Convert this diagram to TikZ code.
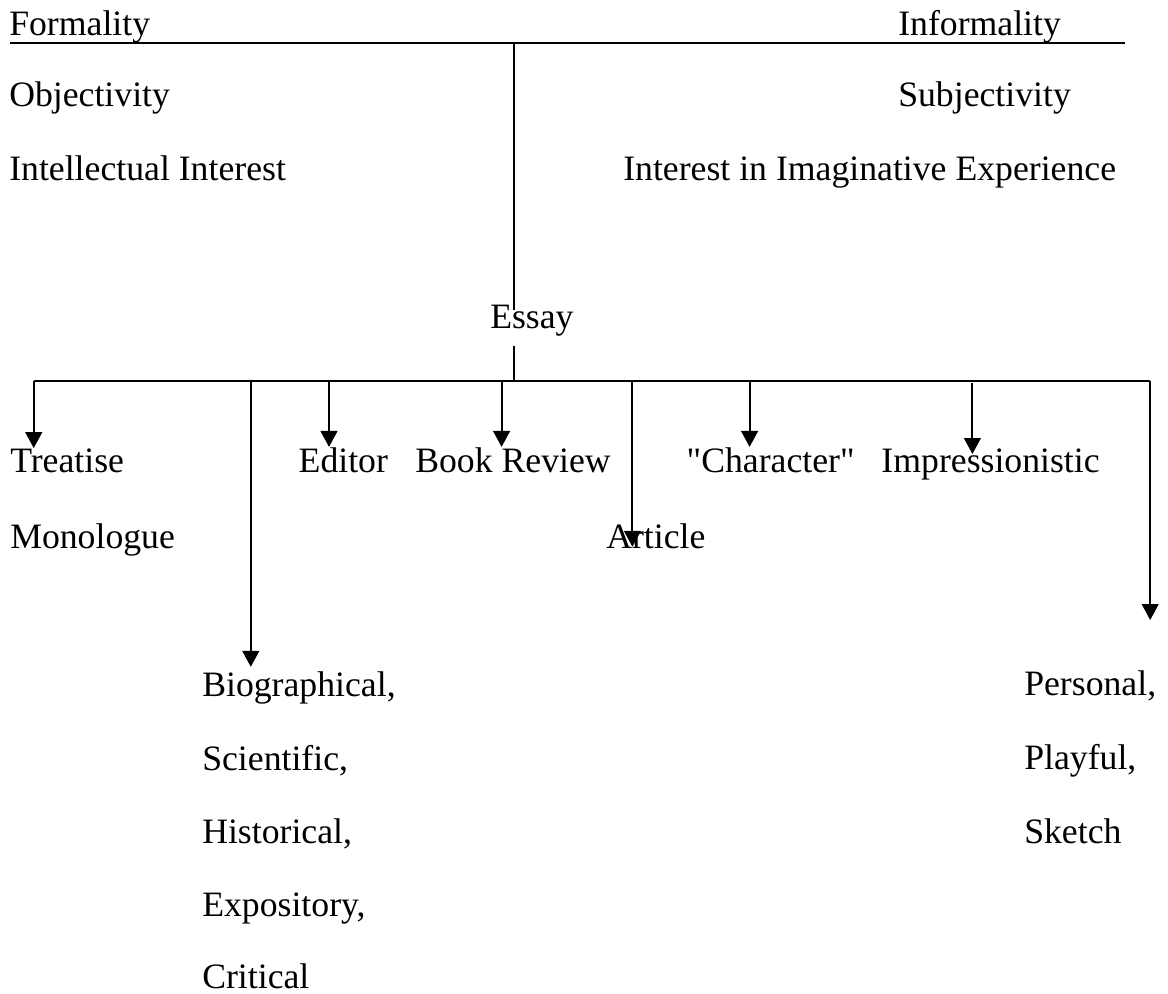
\documentclass[tikz,border=0pt]{standalone}
\usepackage{fontspec}
\setmainfont{Liberation Serif}
\usetikzlibrary{arrows.meta}

\begin{document}
\begin{tikzpicture}[
    every node/.style={inner sep=0pt, anchor=base west, font=\fontsize{25.4}{30}\selectfont},
    link/.style={line width=1.4pt},
    arr/.style={link, -{Triangle[width=0.42cm,length=0.4cm]}}
]
    \useasboundingbox (0,0) rectangle (29.2,-24.85);

    % Scale at the top
    \node (formal) at (0.225,-0.875) {Formality};
    \node (informal) at (22.45,-0.875) {Informality};
    \node (obj) at (0.225,-2.667) {Objectivity};
    \node (subj) at (22.45,-2.667) {Subjectivity};
    \node (intel) at (0.225,-4.5) {Intellectual Interest};
    \node (imag) at (15.575,-4.5) {Interest in Imaginative Experience};
    \coordinate (scaleL) at (0.25,-1.083);
    \coordinate (scaleR) at (28.125,-1.083);
    \coordinate (scaleM) at (12.85,-1.083);
    \draw[line width=1.6pt] (scaleL) -- (scaleR);

    % Essay and the branch line
    \node (essay) at (12.25,-8.208) {Essay};
    \coordinate (stemTop) at (12.85,-7.75);
    \coordinate (stemLow) at (12.85,-8.643);
    \coordinate (branchM) at (12.85,-9.517);
    \coordinate (branchL) at (0.843,-9.517);
    \coordinate (branchR) at (28.755,-9.517);
    \draw[link] (scaleM) -- (stemTop);
    \draw[link] (stemLow) -- (branchM);
    \draw[link] (branchL) -- (branchR);

    % First row of kinds
    \node (treatise) at (0.25,-11.8) {Treatise};
    \node (mono) at (0.25,-13.71) {Monologue};
    \node (editor) at (7.46,-11.8) {Editor};
    \node (review) at (10.375,-11.8) {Book Review};
    \node (article) at (15.15,-13.71) {Article};
    \node (charac) at (17.16,-11.8) {\textquotedbl Character\textquotedbl};
    \node (impress) at (22.03,-11.8) {Impressionistic};

    % Lists at the bottom
    \node (bio) at (5.05,-17.42) {Biographical,};
    \node (sci) at (5.05,-19.25) {Scientific,};
    \node (hist) at (5.05,-21.08) {Historical,};
    \node (expo) at (5.05,-22.92) {Expository,};
    \node (crit) at (5.05,-24.7) {Critical};
    \node (pers) at (25.6,-17.375) {Personal,};
    \node (play) at (25.6,-19.23) {Playful,};
    \node (sketch) at (25.6,-21.08) {Sketch};

    % Arrows down from the branch line
    \draw[arr] (branchL) -- (branchL |- treatise.north);
    \coordinate (bioTop) at (6.27,-9.517);
    \draw[arr] (bioTop) -- (6.27,-16.67);
    \coordinate (edTop) at (8.225,-9.517);
    \draw[arr] (edTop) -- (edTop |- editor.north);
    \coordinate (revTop) at (12.54,-9.517);
    \draw[arr] (revTop) -- (revTop |- review.north);
    \coordinate (artTop) at (15.81,-9.517);
    \coordinate (artTip) at (15.81,-13.67);
    \draw[arr] (artTop) -- (artTip);
    \coordinate (chTop) at (18.74,-9.517);
    \draw[arr] (chTop) -- (chTop |- charac.north);
    \coordinate (impTop) at (24.31,-9.58);
    \draw[arr] (impTop) -- (24.31,-11.35);
    \coordinate (persTip) at (28.755,-15.5);
    \draw[arr] (branchR) -- (persTip);
\end{tikzpicture}
\end{document}
